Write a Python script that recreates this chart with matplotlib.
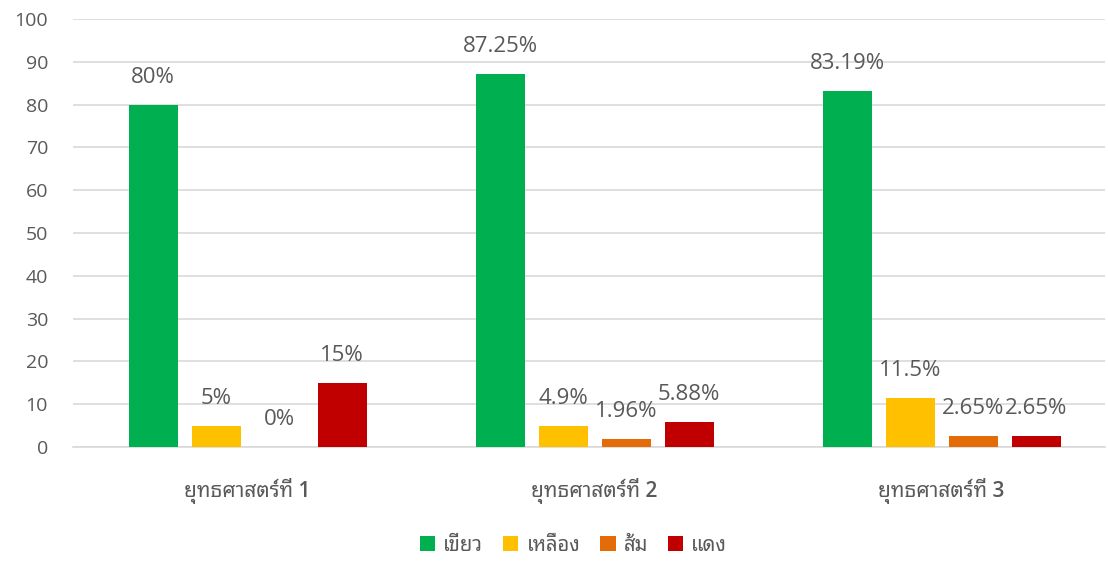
import matplotlib
matplotlib.use("Agg")
import matplotlib.pyplot as plt
import numpy as np

categories = ["ยุทธศาสตร์ที่ 1", "ยุทธศาสตร์ที่ 2", "ยุทธศาสตร์ที่ 3"]
series_names = ["เขียว", "เหลือง", "ส้ม", "แดง"]
green = [80, 87.25, 83.19]
yellow = [5, 4.9, 11.5]
orange = [0, 1.96, 2.65]
red = [15, 5.88, 2.65]
labels_green = ["80%", "87.25%", "83.19%"]
labels_yellow = ["5%", "4.9%", "11.5%"]
labels_orange = ["0%", "1.96%", "2.65%"]
labels_red = ["15%", "5.88%", "2.65%"]
yticks = [0, 10, 20, 30, 40, 50, 60, 70, 80, 90, 100]

colors = ["#00B050", "#FFC000", "#E36C09", "#C00000"]
plt.rcParams['font.family'] = ['Open Sans', 'Noto Sans Thai Looped', 'Sarabun', 'DejaVu Sans']
txt = "#595959"

fig = plt.figure(figsize=(11.08, 5.61), dpi=100)
ax = fig.add_axes([0.0659, 0.2032, 0.9315, 0.7629])

x = np.arange(len(categories))
w = 0.141
step = 0.1816
series = [green, yellow, orange, red]
labs = [labels_green, labels_yellow, labels_orange, labels_red]
for i, (vals, lb, c, nm) in enumerate(zip(series, labs, colors, series_names)):
    pos = x + (i - 1.5) * step
    ax.bar(pos, vals, width=w, color=c, label=nm, zorder=3)
    for p, v, t in zip(pos, vals, lb):
        ax.text(p, v + 3.9, t, ha='center', va='bottom', fontsize=16, color=txt)

ax.set_xlim(-0.503, 2.471)
ax.set_ylim(0, 100)
ax.set_yticks(yticks)
ax.set_yticklabels([str(t) for t in yticks], fontsize=14, color=txt)
ax.set_xticks(x)
ax.set_xticklabels(categories, fontsize=15, color=txt, fontweight='semibold')
ax.tick_params(axis='both', length=0)
ax.tick_params(axis='y', pad=18)
ax.tick_params(axis='x', pad=22)
ax.grid(axis='y', color='#D9D9D9', linewidth=1.2, zorder=0)
for s in ['top', 'right', 'left']:
    ax.spines[s].set_visible(False)
ax.spines['bottom'].set_color('#D9D9D9')
ax.spines['bottom'].set_linewidth(1.2)

ax.legend(loc='center', bbox_to_anchor=(0.485, -0.231), ncol=4, frameon=False,
          fontsize=14.5, handlelength=0.75, handleheight=0.75, handletextpad=0.4,
          columnspacing=1.0, labelcolor=txt)

fig.savefig("out.png", dpi=100)
